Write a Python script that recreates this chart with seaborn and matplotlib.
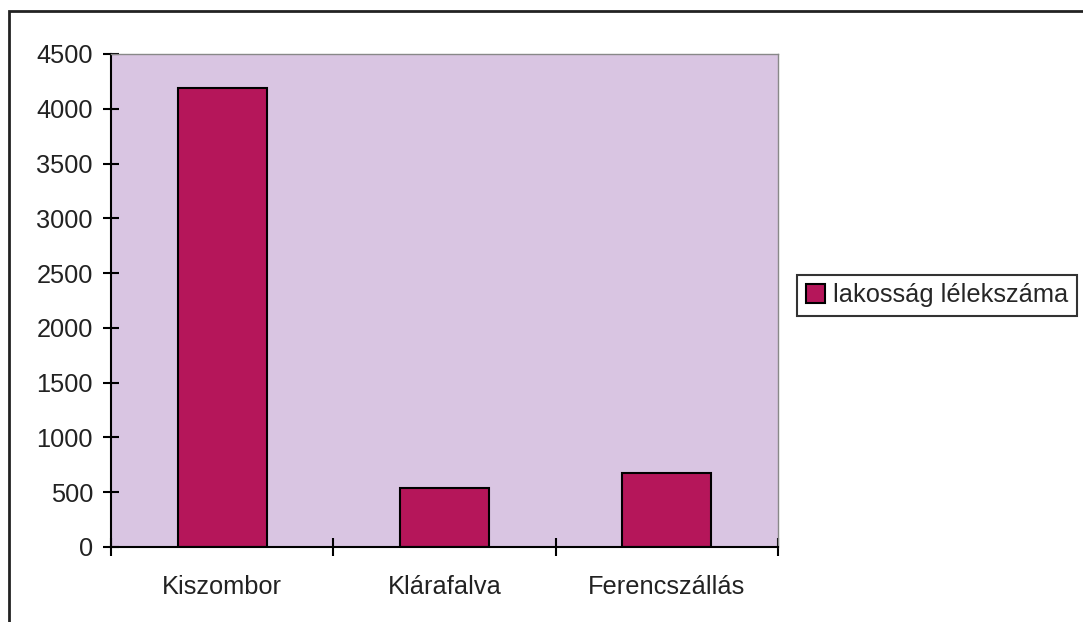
import seaborn as sns
import matplotlib.pyplot as plt
from matplotlib.patches import Rectangle
import pandas as pd

sns.set_style("white")
plt.rcParams['font.family'] = ['Liberation Sans', 'DejaVu Sans']

# data
towns = ["Kiszombor", "Klárafalva", "Ferencszállás"]
population = [4190, 538, 675]
series_name = "lakosság lélekszáma"
y_ticks = list(range(0, 5000, 500))

df = pd.DataFrame({"town": towns, "pop": population})

fig = plt.figure(figsize=(10.83, 6.22), dpi=100)
ax = fig.add_axes([0.1025, 0.1206, 0.6159, 0.7926])

sns.barplot(data=df, x="town", y="pop", color="#B5165A", width=0.4,
            edgecolor="black", linewidth=1.5, saturation=1,
            label=series_name, ax=ax)

ax.set_facecolor("#D9C5E2")
ax.set_xlim(-0.5, 2.5)
ax.set_ylim(0, 4500)
ax.set_yticks(y_ticks)
ax.set_xlabel("")
ax.set_ylabel("")

fs = 18.3
# category labels sit between boundary ticks
ax.set_xticks([-0.5, 0.5, 1.5, 2.5])
ax.set_xticklabels([])
ax.set_xticks(range(len(towns)), minor=True)
ax.set_xticklabels(towns, minor=True)
ax.tick_params(axis="x", which="major", bottom=True, direction="inout", length=13,
               width=1.5, color="black")
ax.tick_params(axis="x", which="minor", bottom=True, length=0, pad=20, labelsize=fs,
               labelcolor="#222222")
ax.tick_params(axis="y", left=True, direction="inout", length=12, width=1.5, color="black",
               pad=7, labelsize=fs, labelcolor="#222222")

for side in ["left", "bottom"]:
    ax.spines[side].set_color("black")
    ax.spines[side].set_linewidth(1.5)
for side in ["top", "right"]:
    ax.spines[side].set_color("#888888")
    ax.spines[side].set_linewidth(1.0)

leg = ax.legend(loc="center left", bbox_to_anchor=(0.736, 0.525), bbox_transform=fig.transFigure,
                frameon=True, fancybox=False, fontsize=fs, handlelength=0.75, handleheight=0.75,
                handletextpad=0.3, borderpad=0.35, borderaxespad=0)
leg.get_frame().set_edgecolor("black")
leg.get_frame().set_linewidth(1.5)

# outer chart frame, cut by the image edges
fig.patches.append(Rectangle((9 / 1083, -0.05), 1.1, 1 - 11 / 622 + 0.05,
                             transform=fig.transFigure, fill=False,
                             edgecolor="#222222", linewidth=2))

plt.savefig("out.png", dpi=100)
plt.close()
